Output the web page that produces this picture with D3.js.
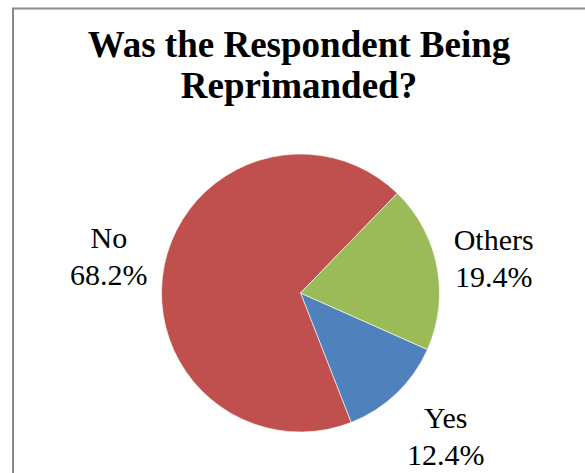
<!DOCTYPE html>
<html>
<head>
<meta charset="utf-8">
<script src="https://cdn.jsdelivr.net/npm/d3@7"></script>
<style>
  body { margin: 0; background: #fff; }
</style>
</head>
<body>
<script>
const categories = ["Yes", "No", "Others"];
const values = [12.4, 68.2, 19.4];
const colors = ["#4F81BD", "#C0504D", "#9BBB59"];
const titleLines = ["Was the Respondent Being", "Reprimanded?"];

const width = 585, height = 473;
const cx = 300.5, cy = 293, radius = 139;
const serif = "'Liberation Serif', 'Times New Roman', Times, 'DejaVu Serif', serif";

const svg = d3.select("body")
  .append("svg")
  .attr("width", width)
  .attr("height", height)
  .attr("font-family", serif);

// chart frame (right and bottom edges fall outside the picture)
svg.append("rect")
  .attr("x", 13)
  .attr("y", 8.5)
  .attr("width", 590)
  .attr("height", 480)
  .attr("fill", "#fff")
  .attr("stroke", "#888")
  .attr("stroke-width", 2);

svg.selectAll(".title")
  .data(titleLines)
  .enter()
  .append("text")
  .attr("class", "title")
  .attr("x", 299)
  .attr("y", (d, i) => 57 + i * 41)
  .attr("text-anchor", "middle")
  .attr("font-family", serif)
  .attr("font-size", 37)
  .attr("font-weight", "bold")
  .text(d => d);

const data = categories.map((c, i) => ({name: c, value: values[i], color: colors[i]}));

const startDeg = 114;
const pie = d3.pie()
  .sort(null)
  .value(d => d.value)
  .startAngle(startDeg * Math.PI / 180)
  .endAngle((startDeg + 360) * Math.PI / 180);

const arc = d3.arc().innerRadius(0).outerRadius(radius);

const g = svg.append("g")
  .attr("transform", "translate(" + cx + "," + cy + ")");

const arcs = pie(data);

g.selectAll("path")
  .data(arcs)
  .enter()
  .append("path")
  .attr("d", arc)
  .attr("fill", d => d.data.color)
  .attr("stroke", "#fff")
  .attr("stroke-width", 0.6);

// labels outside: anchor point on a ring, box shifted away from the pie
const labels = g.selectAll(".label")
  .data(arcs)
  .enter()
  .append("text")
  .attr("class", "label")
  .attr("text-anchor", "middle")
  .attr("font-family", serif)
  .attr("font-size", 30)
  .attr("fill", "#000");

labels.append("tspan")
  .attr("x", 0)
  .attr("y", -8)
  .text(d => d.data.name);

labels.append("tspan")
  .attr("x", 0)
  .attr("y", 29)
  .text(d => d3.format(".1f")(d.data.value) + "%");

const labelRing = radius + 17;
labels.each(function (d) {
  const bb = this.getBBox();
  const a = (d.startAngle + d.endAngle) / 2;
  const sx = Math.sin(a), sy = -Math.cos(a);
  const hw = bb.width / 2, hh = 28.5;
  const ox = hw * Math.sign(sx) * Math.min(1, 1.4 * Math.abs(sx));
  const oy = hh * Math.sign(sy) * Math.min(1, 1.4 * Math.abs(sy));
  d3.select(this).attr("transform", "translate(" + (labelRing * sx + ox) + "," + (labelRing * sy + oy + 2) + ")");
});
</script>
</body>
</html>
